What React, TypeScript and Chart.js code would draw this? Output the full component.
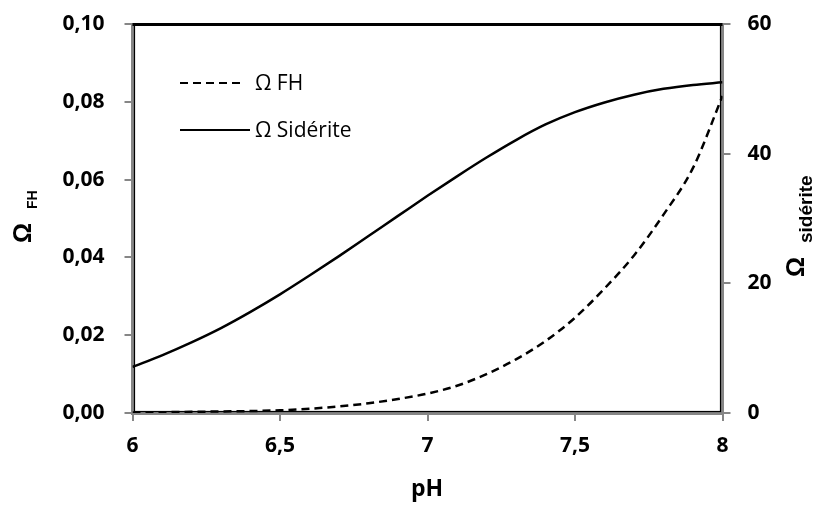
import React, { useEffect, useRef } from "react";
import { Chart, registerables } from "chart.js";

Chart.register(...registerables);

const phValues = [6.0, 6.1, 6.2, 6.3, 6.4, 6.5, 6.6, 6.7, 6.8, 6.9, 7.0, 7.1, 7.2, 7.3, 7.4, 7.5, 7.6, 7.7, 7.8, 7.9, 8.0];
const fhValues = [0.0001, 0.0002, 0.0003, 0.0004, 0.0005, 0.0007, 0.0011, 0.0017, 0.0025, 0.0036, 0.005, 0.007, 0.01, 0.0138, 0.0185, 0.0245, 0.032, 0.0405, 0.051, 0.063, 0.0815];
const sideriteValues = [7.1, 8.9, 10.9, 13.1, 15.6, 18.3, 21.2, 24.2, 27.3, 30.4, 33.5, 36.5, 39.4, 42.1, 44.5, 46.4, 47.9, 49.1, 50.0, 50.6, 51.0];

const xTickLabels = ["6", "6,5", "7", "7,5", "8"];
const leftTickLabels = ["0,00", "0,02", "0,04", "0,06", "0,08", "0,10"];
const rightTickLabels = ["0", "20", "40", "60"];

const fhLabel = "Ω FH";
const sideriteLabel = "Ω Sidérite";
const xTitle = "pH";

const tickFont = { family: "'Open Sans'", size: 21, weight: "bold" as const };
const GREY = "#868686";

const overlayPlugin = {
  id: "overlay",
  afterDraw(chart: any) {
    const { ctx, chartArea } = chart;
    const { left, right, top, bottom } = chartArea;
    ctx.save();
    // inner black frame
    ctx.strokeStyle = "#000";
    ctx.lineWidth = 1.2;
    ctx.strokeRect(left + 2, top, right - left - 4, bottom - top - 1.5);
    // thick top border
    ctx.lineWidth = 3;
    ctx.beginPath();
    ctx.moveTo(left, top + 0.5);
    ctx.lineTo(right, top + 0.5);
    ctx.stroke();

    // legend
    ctx.lineWidth = 2.2;
    ctx.setLineDash([8, 5]);
    ctx.beginPath();
    ctx.moveTo(180, 83);
    ctx.lineTo(242, 83);
    ctx.stroke();
    ctx.setLineDash([]);
    ctx.beginPath();
    ctx.moveTo(180, 130);
    ctx.lineTo(250, 130);
    ctx.stroke();
    ctx.fillStyle = "#000";
    ctx.font = "21px 'Open Sans'";
    ctx.textAlign = "left";
    ctx.textBaseline = "middle";
    ctx.fillText(fhLabel, 255, 84);
    ctx.fillText(sideriteLabel, 255, 131);

    // x title
    ctx.font = "bold 23px 'Open Sans'";
    ctx.textAlign = "center";
    ctx.textBaseline = "alphabetic";
    ctx.fillText(xTitle, 427, 496);

    // left title
    ctx.save();
    ctx.translate(31, 243);
    ctx.rotate(-Math.PI / 2);
    ctx.textAlign = "left";
    ctx.textBaseline = "alphabetic";
    ctx.font = "bold 25px 'Liberation Sans'";
    ctx.fillText("Ω", 0, 0);
    ctx.font = "bold 14px 'Liberation Sans'";
    ctx.fillText("FH", 34, 6);
    ctx.restore();

    // right title
    ctx.save();
    ctx.translate(803.5, 277);
    ctx.rotate(-Math.PI / 2);
    ctx.textAlign = "left";
    ctx.textBaseline = "alphabetic";
    ctx.font = "bold 25px 'Liberation Sans'";
    ctx.fillText("Ω", 0, 0);
    ctx.font = "bold 19px 'Liberation Sans'";
    ctx.fillText("sidérite", 34, 8);
    ctx.restore();

    ctx.restore();
  },
};

export default function App() {
  const canvasRef = useRef<HTMLCanvasElement | null>(null);

  useEffect(() => {
    const canvas = canvasRef.current;
    if (!canvas) return;
    const chart = new Chart(canvas, {
      type: "line",
      data: {
        datasets: [
          {
            label: fhLabel,
            data: phValues.map((x, i) => ({ x, y: fhValues[i] })),
            yAxisID: "y",
            borderColor: "#000",
            borderWidth: 2.5,
            borderDash: [8, 5],
            pointRadius: 0,
            cubicInterpolationMode: "monotone",
            fill: false,
          },
          {
            label: sideriteLabel,
            data: phValues.map((x, i) => ({ x, y: sideriteValues[i] })),
            yAxisID: "y2",
            borderColor: "#000",
            borderWidth: 2.5,
            pointRadius: 0,
            cubicInterpolationMode: "monotone",
            fill: false,
          },
        ],
      },
      options: {
        responsive: false,
        animation: false,
        devicePixelRatio: 1,
        layout: { padding: { top: 24, left: 0, right: 0, bottom: 0 } },
        plugins: { legend: { display: false }, tooltip: { enabled: false } },
        scales: {
          x: {
            type: "linear",
            position: "bottom",
            min: 6,
            max: 8,
            ticks: {
              stepSize: 0.5,
              font: tickFont,
              color: "#000",
              padding: 12,
              maxRotation: 0,
              callback: (v: any) => xTickLabels[Math.round((Number(v) - 6) / 0.5)] ?? "",
            },
            grid: { drawOnChartArea: false, drawTicks: true, tickLength: 8, color: GREY, lineWidth: 2 },
            border: { color: GREY, width: 3 },
            afterFit: (s: any) => { s.height = 93; s.paddingLeft = 0; s.paddingRight = 0; },
          },
          y: {
            type: "linear",
            position: "left",
            min: 0,
            max: 0.1,
            ticks: {
              stepSize: 0.02,
              font: tickFont,
              color: "#000",
              padding: 20,
              callback: (v: any) => leftTickLabels[Math.round(Number(v) / 0.02)] ?? "",
            },
            grid: { drawOnChartArea: false, drawTicks: true, tickLength: 8, color: GREY, lineWidth: 2 },
            border: { color: GREY, width: 3 },
            afterFit: (s: any) => { s.width = 132.5; s.paddingTop = 0; s.paddingBottom = 0; },
          },
          y2: {
            type: "linear",
            position: "right",
            min: 0,
            max: 60,
            ticks: {
              stepSize: 20,
              font: tickFont,
              color: "#000",
              padding: 17,
              callback: (v: any) => rightTickLabels[Math.round(Number(v) / 20)] ?? "",
            },
            grid: { drawOnChartArea: false, drawTicks: true, tickLength: 8, color: GREY, lineWidth: 2 },
            border: { color: GREY, width: 3 },
            afterFit: (s: any) => { s.width = 95.5; s.paddingTop = 0; s.paddingBottom = 0; },
          },
        },
      },
      plugins: [overlayPlugin],
    } as any);
    return () => chart.destroy();
  }, []);

  return (
    <div style={{ position: "fixed", left: 0, top: 0, width: 818, height: 506, background: "#fff" }}>
      <canvas ref={canvasRef} width={818} height={506} style={{ width: 818, height: 506, display: "block" }} />
    </div>
  );
}
